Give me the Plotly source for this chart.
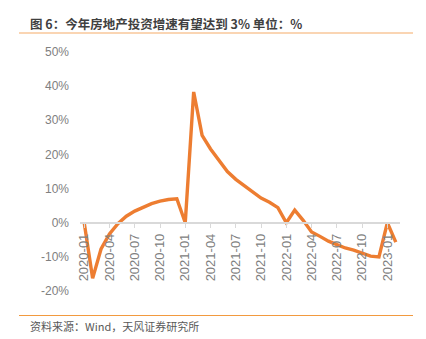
import plotly.graph_objects as go

months = [f"{y}-{m:02d}" for y in range(2020, 2024) for m in range(1, 13)][:38]
values = [0, -16.3, -7.7, -3.3, -0.3, 1.9, 3.4, 4.6, 5.6, 6.3, 6.8, 7.0,
          0, 38.3, 25.6, 21.6, 18.3, 15.0, 12.7, 10.9, 8.8, 7.2, 6.0, 4.4,
          0, 3.7, 0.7, -2.7, -4.0, -5.4, -6.4, -7.4, -8.0, -8.8, -9.8, -10.0,
          0, -5.7]
x_ticks = months[::3]
y_ticks = [-20, -10, 0, 10, 20, 30, 40, 50]
y_ticktext = [f"{v}%" for v in y_ticks]

title = "图 6：今年房地产投资增速有望达到 3% 单位：%"
source = "资料来源：Wind，天风证券研究所"

L, R, T, B = 80, 26, 52, 48
W, H = 426, 339
pw, ph = W - L - R, H - T - B

def px_x(x):
    return (x - L) / pw

def px_y(y):
    return (H - B - y) / ph

fig = go.Figure()
fig.add_trace(go.Scatter(x=months, y=values, mode="lines",
                         line=dict(color="#ED7D31", width=3.4), hoverinfo="skip"))

fig.update_layout(
    width=W, height=H, margin=dict(l=L, r=R, t=T, b=B),
    paper_bgcolor="white", plot_bgcolor="white", showlegend=False,
    xaxis=dict(type="category", categoryorder="array", categoryarray=months,
               range=[-0.5, len(months) - 0.5],
               tickmode="array", tickvals=x_ticks, ticktext=x_ticks,
               tickangle=-90, anchor="free", position=20 / 70,
               showline=True, linecolor="#D9D9D9", linewidth=1.5,
               ticks="outside", ticklen=5, tickcolor="#D9D9D9", tickwidth=1,
               showgrid=False, zeroline=False,
               tickfont=dict(family="Liberation Sans", size=13, color="#808080")),
    yaxis=dict(range=[-20, 50], tickmode="array", tickvals=y_ticks, ticktext=y_ticktext,
               showgrid=False, zeroline=False, showline=False, ticks="",
               ticklabelstandoff=10,
               tickfont=dict(family="Liberation Sans", size=12, color="#808080")),
)

fig.add_shape(type="line", xref="paper", yref="paper",
              x0=px_x(19), x1=px_x(413), y0=px_y(33), y1=px_y(33),
              line=dict(color="#F8C79A", width=1.5))
fig.add_shape(type="line", xref="paper", yref="paper",
              x0=px_x(19), x1=px_x(413), y0=px_y(315.5), y1=px_y(315.5),
              line=dict(color="#F29A3F", width=1.2))

fig.add_annotation(text=f"<b>{title}</b>", xref="paper", yref="paper",
                   x=px_x(28), y=px_y(24), xanchor="left", yanchor="middle",
                   showarrow=False,
                   font=dict(family="Noto Sans CJK SC", size=12.5, color="#404040"))
fig.add_annotation(text=source, xref="paper", yref="paper",
                   x=px_x(28), y=px_y(325.5), xanchor="left", yanchor="middle",
                   showarrow=False,
                   font=dict(family="Noto Sans CJK SC", size=11, color="#595959"))

fig.write_html("out.html")
